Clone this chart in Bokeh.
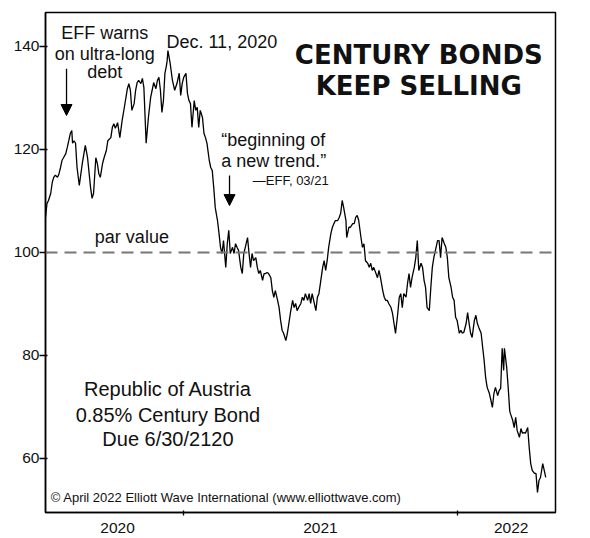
import pandas as pd
from bokeh.plotting import figure
from bokeh.models import (Range1d, FixedTicker, CustomJSTickFormatter, Span, Label,
                          Arrow, NormalHead)
from bokeh.embed import file_html
from bokeh.resources import INLINE

# ---------------- data ----------------
dates = [
    "2020-07-01", "2020-07-03", "2020-07-05", "2020-07-08", "2020-07-10", "2020-07-12", "2020-07-14", "2020-07-17", "2020-07-19", "2020-07-21",
    "2020-07-23", "2020-07-25", "2020-07-28", "2020-07-30", "2020-08-01", "2020-08-03", "2020-08-05", "2020-08-06", "2020-08-08", "2020-08-10",
    "2020-08-12", "2020-08-15", "2020-08-19", "2020-08-23", "2020-08-26", "2020-08-30", "2020-09-01", "2020-09-03", "2020-09-06", "2020-09-08",
    "2020-09-10", "2020-09-12", "2020-09-15", "2020-09-17", "2020-09-20", "2020-09-22", "2020-09-26", "2020-09-28", "2020-09-30", "2020-10-02",
    "2020-10-05", "2020-10-08", "2020-10-11", "2020-10-14", "2020-10-18", "2020-10-20", "2020-10-22", "2020-10-24", "2020-10-27", "2020-10-29",
    "2020-10-31", "2020-11-02", "2020-11-05", "2020-11-07", "2020-11-09", "2020-11-12", "2020-11-15", "2020-11-18", "2020-11-20", "2020-11-22",
    "2020-11-25", "2020-11-27", "2020-11-29", "2020-12-01", "2020-12-03", "2020-12-05", "2020-12-07", "2020-12-09", "2020-12-10", "2020-12-11",
    "2020-12-14", "2020-12-17", "2020-12-20", "2020-12-23", "2020-12-26", "2020-12-28", "2020-12-30", "2021-01-01", "2021-01-04", "2021-01-06",
    "2021-01-08", "2021-01-10", "2021-01-12", "2021-01-15", "2021-01-17", "2021-01-19", "2021-01-21", "2021-01-23", "2021-01-26", "2021-01-28",
    "2021-01-30", "2021-02-01", "2021-02-04", "2021-02-06", "2021-02-08", "2021-02-10", "2021-02-12", "2021-02-15", "2021-02-17", "2021-02-19",
    "2021-02-21", "2021-02-23", "2021-02-26", "2021-02-28", "2021-03-02", "2021-03-04", "2021-03-07", "2021-03-09", "2021-03-11", "2021-03-13",
    "2021-03-15", "2021-03-18", "2021-03-20", "2021-03-22", "2021-03-24", "2021-03-27", "2021-03-29", "2021-03-31", "2021-04-02", "2021-04-04",
    "2021-04-07", "2021-04-09", "2021-04-11", "2021-04-13", "2021-04-16", "2021-04-18", "2021-04-20", "2021-04-22", "2021-04-24", "2021-04-27",
    "2021-04-29", "2021-05-01", "2021-05-03", "2021-05-06", "2021-05-08", "2021-05-10", "2021-05-12", "2021-05-14", "2021-05-17", "2021-05-19",
    "2021-05-21", "2021-05-23", "2021-05-26", "2021-05-28", "2021-05-30", "2021-06-01", "2021-06-03", "2021-06-06", "2021-06-08", "2021-06-10",
    "2021-06-12", "2021-06-15", "2021-06-17", "2021-06-19", "2021-06-21", "2021-06-23", "2021-06-26", "2021-06-28", "2021-06-30", "2021-07-02",
    "2021-07-05", "2021-07-07", "2021-07-09", "2021-07-11", "2021-07-13", "2021-07-16", "2021-07-18", "2021-07-20", "2021-07-22", "2021-07-25",
    "2021-07-27", "2021-07-29", "2021-07-31", "2021-08-02", "2021-08-05", "2021-08-06", "2021-08-09", "2021-08-11", "2021-08-14", "2021-08-16",
    "2021-08-18", "2021-08-20", "2021-08-22", "2021-08-25", "2021-08-27", "2021-08-29", "2021-08-31", "2021-09-03", "2021-09-05", "2021-09-07",
    "2021-09-09", "2021-09-11", "2021-09-14", "2021-09-16", "2021-09-18", "2021-09-20", "2021-09-23", "2021-09-25", "2021-09-27", "2021-09-29",
    "2021-10-01", "2021-10-04", "2021-10-06", "2021-10-08", "2021-10-10", "2021-10-13", "2021-10-15", "2021-10-17", "2021-10-19", "2021-10-21",
    "2021-10-24", "2021-10-26", "2021-10-28", "2021-10-30", "2021-11-01", "2021-11-04", "2021-11-06", "2021-11-08", "2021-11-10", "2021-11-13",
    "2021-11-15", "2021-11-17", "2021-11-19", "2021-11-21", "2021-11-24", "2021-11-26", "2021-11-28", "2021-11-30", "2021-12-03", "2021-12-05",
    "2021-12-07", "2021-12-09", "2021-12-11", "2021-12-14", "2021-12-16", "2021-12-18", "2021-12-20", "2021-12-23", "2021-12-25", "2021-12-27",
    "2021-12-29", "2021-12-31", "2022-01-03", "2022-01-05", "2022-01-07", "2022-01-09", "2022-01-12", "2022-01-14", "2022-01-16", "2022-01-18",
    "2022-01-20", "2022-01-23", "2022-01-25", "2022-01-27", "2022-01-29", "2022-02-01", "2022-02-03", "2022-02-05", "2022-02-07", "2022-02-09",
    "2022-02-12", "2022-02-14", "2022-02-16", "2022-02-18", "2022-02-20", "2022-02-23", "2022-02-25", "2022-02-27", "2022-03-01", "2022-03-03",
    "2022-03-04", "2022-03-07", "2022-03-09", "2022-03-11", "2022-03-12", "2022-03-15", "2022-03-17", "2022-03-19", "2022-03-21", "2022-03-24",
    "2022-03-26", "2022-03-28", "2022-03-30", "2022-04-01", "2022-04-04", "2022-04-06", "2022-04-08", "2022-04-10", "2022-04-13", "2022-04-15",
    "2022-04-17", "2022-04-19", "2022-04-21", "2022-04-24", "2022-04-26", "2022-04-28",
]

prices = [
    106.8, 109.5, 110.1, 111.5, 113.6, 114.6, 115.0, 114.6, 115.3, 116.5,
    117.9, 118.4, 119.2, 120.4, 121.7, 123.1, 123.7, 121.2, 121.7, 121.2,
    116.5, 113.0, 117.3, 120.8, 118.4, 112.6, 110.5, 111.5, 118.4, 117.3,
    115.3, 114.6, 117.3, 118.4, 119.8, 121.7, 122.3, 124.3, 125.0, 124.1,
    125.2, 122.3, 125.6, 128.2, 131.8, 132.8, 131.5, 127.6, 128.9, 131.5,
    133.0, 133.4, 132.8, 133.8, 132.0, 121.2, 126.2, 130.1, 131.5, 133.0,
    131.8, 133.4, 134.0, 131.5, 127.2, 129.5, 134.8, 136.3, 137.3, 139.2,
    136.7, 133.4, 131.5, 132.8, 134.8, 130.5, 132.8, 134.0, 134.8, 130.9,
    129.5, 128.9, 124.3, 129.5, 127.6, 128.2, 124.3, 127.6, 126.2, 123.1,
    122.3, 121.2, 117.9, 116.5, 115.9, 112.6, 108.7, 106.2, 103.7, 101.0,
    99.8, 102.3, 97.1, 101.7, 104.3, 99.8, 101.0, 99.8, 101.7, 101.0,
    100.4, 97.1, 95.9, 99.8, 101.0, 102.9, 99.8, 97.1, 99.8, 98.4,
    99.0, 97.1, 95.9, 96.5, 94.6, 95.9, 95.9, 96.1, 95.9, 95.1,
    92.6, 91.3, 92.6, 90.7, 89.3, 86.8, 84.9, 84.3, 82.9, 84.3,
    86.2, 88.2, 90.7, 89.3, 90.1, 88.7, 89.3, 90.1, 91.3, 90.7,
    92.0, 90.7, 92.0, 90.1, 92.0, 90.7, 88.7, 91.3, 92.0, 94.0,
    97.1, 98.4, 96.5, 98.4, 101.0, 103.7, 104.9, 105.6, 106.2, 106.2,
    106.8, 107.6, 110.1, 108.7, 106.2, 102.9, 104.9, 104.9, 105.6, 105.6,
    106.8, 107.2, 106.2, 102.9, 101.0, 101.7, 98.4, 97.9, 97.1, 97.9,
    96.5, 97.1, 95.9, 95.1, 96.5, 95.1, 92.6, 91.3, 90.7, 90.7,
    90.1, 89.3, 88.2, 86.2, 84.3, 88.2, 91.3, 92.0, 89.3, 92.0,
    91.3, 94.0, 95.9, 93.2, 95.1, 97.1, 99.0, 102.3, 96.5, 97.9,
    97.1, 94.6, 93.2, 89.3, 88.7, 93.2, 97.1, 99.0, 101.0, 102.3,
    102.3, 99.0, 102.9, 101.7, 101.0, 99.0, 95.1, 93.2, 91.3, 90.7,
    87.4, 86.8, 84.3, 84.9, 84.3, 84.5, 86.2, 88.3, 86.2, 84.3,
    83.5, 86.8, 87.8, 86.2, 85.4, 84.3, 81.6, 79.0, 75.7, 73.8,
    72.6, 71.3, 69.9, 72.6, 73.8, 72.2, 73.2, 73.6, 81.4, 77.1,
    81.4, 77.7, 73.8, 69.3, 68.7, 67.4, 66.0, 68.0, 65.4, 64.1,
    65.8, 64.9, 65.0, 64.9, 66.0, 62.1, 59.0, 57.7, 57.1, 57.1,
    53.4, 55.7, 56.3, 59.0, 57.7, 56.3,
]

y_ticks = [60, 80, 100, 120, 140]
year_label_dates = ["2020-10-05", "2021-07-02", "2022-03-13"]   # where the year names sit
year_start_dates = ["2021-01-01", "2022-01-01"]                 # year boundary tick marks
par_value = 100

title_lines = ["CENTURY BONDS", "KEEP SELLING"]
eff_lines = ["EFF warns", "on ultra-long", "debt"]
trend_lines = ["\u201cbeginning of", "a new trend.\u201d"]
trend_source = "\u2014EFF, 03/21"
peak_label = "Dec. 11, 2020"
bond_lines = ["Republic of Austria", "0.85% Century Bond", "Due 6/30/2120"]
copyright_text = "\u00a9 April 2022 Elliott Wave International (www.elliottwave.com)"


def ms(s):
    return pd.Timestamp(s).value / 1e6


FONT = "Liberation Sans"
INK = "#111111"

p = figure(width=580, height=538, x_axis_type="datetime",
           output_backend="svg", toolbar_location=None,
           x_range=Range1d(ms("2020-07-01"), ms("2022-05-11")),
           y_range=Range1d(49.5, 146.6),
           min_border_left=45, min_border_right=25,
           min_border_top=12, min_border_bottom=26)

p.background_fill_color = "white"
p.border_fill_color = "white"
p.outline_line_color = "black"
p.outline_line_width = 1.5
p.outline_line_alpha = 1.0
p.xgrid.visible = False
p.ygrid.visible = False

# y axis
p.yaxis.ticker = FixedTicker(ticks=y_ticks)
p.yaxis.major_tick_out = 6
p.yaxis.major_tick_in = 2
p.yaxis.minor_tick_out = 0
p.yaxis.minor_tick_in = 0
p.yaxis.major_label_standoff = 0
p.yaxis.axis_line_color = "black"
p.yaxis.axis_line_width = 1.5
p.yaxis.major_tick_line_color = "black"
p.yaxis.major_tick_line_width = 1.3
p.yaxis.major_label_text_font = FONT
p.yaxis.major_label_text_font_size = "15.5px"
p.yaxis.major_label_text_color = INK

# x axis: year names centred in each year, marks at the year boundaries
p.xaxis.ticker = FixedTicker(ticks=[ms(d) for d in year_label_dates],
                             minor_ticks=[ms(d) for d in year_start_dates])
p.xaxis.formatter = CustomJSTickFormatter(
    code="return String(new Date(tick).getUTCFullYear());")
p.xaxis.major_tick_out = 0
p.xaxis.major_tick_in = 0
p.xaxis.minor_tick_out = 3
p.xaxis.minor_tick_in = 2
p.xaxis.minor_tick_line_color = "black"
p.xaxis.minor_tick_line_width = 1.3
p.xaxis.major_label_standoff = 7
p.xaxis.axis_line_color = "black"
p.xaxis.axis_line_width = 1.5
p.xaxis.major_label_text_font = FONT
p.xaxis.major_label_text_font_size = "15.5px"
p.xaxis.major_label_text_color = INK

# par value dashed line
p.add_layout(Span(location=par_value, dimension="width", line_color="#777777",
                  line_width=2, line_dash="12 7"))

# price line
p.line(x=pd.to_datetime(dates), y=prices, line_color="black", line_width=1.3)


def label(x, y, text, size="18px", align="center", font=FONT, style="normal"):
    p.add_layout(Label(x=ms(x), y=y, text=text, text_font=font,
                       text_font_size=size, text_align=align,
                       text_baseline="middle", text_color=INK,
                       text_font_style=style))


# title
for t, yy in zip(title_lines, [138.25, 132.4]):
    label("2021-11-10", yy, t, size="26px", font="DejaVu Sans", style="bold")

# EFF warns
for t, yy in zip(eff_lines, [142.7, 138.6, 135.0]):
    label("2020-09-18", yy, t)

# peak
label("2020-12-09", 140.8, peak_label, align="left")

# beginning of a new trend
for t, yy in zip(trend_lines, [121.75, 117.7]):
    label("2021-02-20", yy, t, align="left")
label("2021-07-13", 114.0, trend_source, size="13px", align="right")

# par value
label("2020-10-24", 103.0, "par value")

# bond description
for t, yy in zip(bond_lines, [73.4, 68.5, 63.7]):
    label("2020-12-11", yy, t, size="20px")

# copyright
label("2020-07-08", 52.4, copyright_text, size="13px", align="left")

# arrows
for xd, y0, y1 in [("2020-07-29", 135.7, 126.6), ("2021-03-03", 114.95, 109.1)]:
    p.add_layout(Arrow(end=NormalHead(size=11, fill_color="black",
                                      line_color="black", line_width=1),
                       x_start=ms(xd), y_start=y0, x_end=ms(xd), y_end=y1,
                       line_color="black", line_width=1.3))

open("out.html", "w").write(file_html(p, INLINE))
